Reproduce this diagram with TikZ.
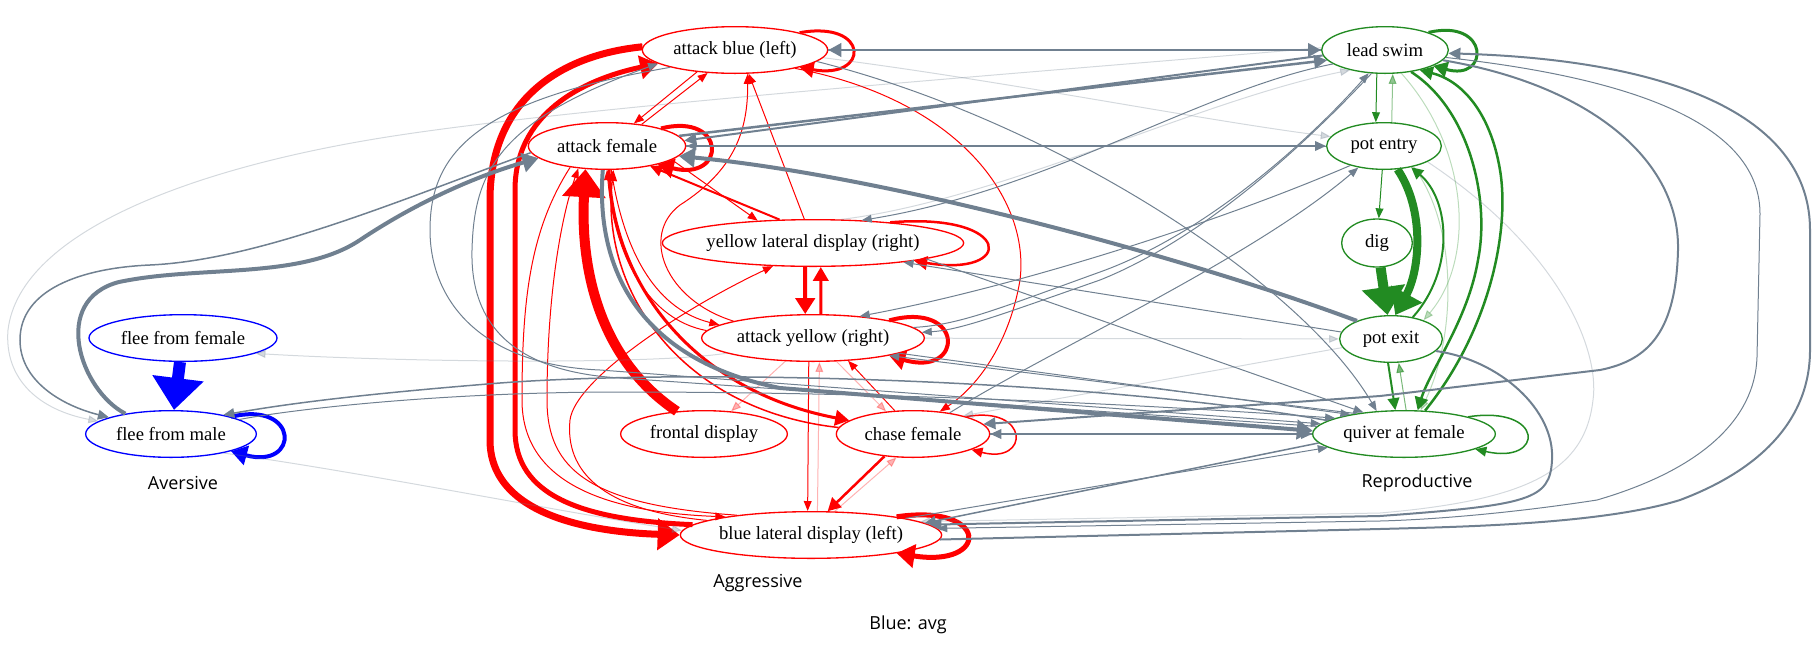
\documentclass[tikz,border=0pt]{standalone}
\usepackage{fontspec}
\setmainfont{Liberation Serif}
\newfontfamily\clusterfont{Open Sans}
\usepackage{xcolor}
\usetikzlibrary{shapes,arrows.meta,positioning,calc}
\definecolor{aggred}{RGB}{255,0,0}
\definecolor{repgreen}{RGB}{34,139,34}
\definecolor{avblue}{RGB}{0,0,255}
\definecolor{slategray}{RGB}{112,128,144}

\begin{document}
\begin{tikzpicture}[x=0.75pt, y=-0.75pt, >={Triangle[length=6pt 2,width=3pt 3.8]},
    state/.style={ellipse, draw, line width=1pt, inner sep=0pt, minimum height=35pt, font=\fontsize{14}{16}\selectfont},
    aggstate/.style={state, draw=aggred},
    repstate/.style={state, draw=repgreen},
    avstate/.style={state, draw=avblue},
    clusterlabel/.style={font=\clusterfont\fontsize{13.5}{16}\selectfont},
    pw/.style={line width=#1*0.75pt},
    agg/.style={color=aggred, ->},
    rep/.style={color=repgreen, ->},
    avs/.style={color=avblue, ->},
    cross/.style={color=slategray, ->},
    faint/.style={opacity=0.3}]
    \useasboundingbox (0,0) rectangle (1816,647);

    % Aggressive states
    \node[aggstate, minimum width=139pt] (ab) at (735,50) {attack blue (left)};
    \node[aggstate, minimum width=118pt] (af) at (607,146) {attack female};
    \node[aggstate, minimum width=224pt] (yl) at (813,243) {yellow lateral display (right)};
    \node[aggstate, minimum width=167pt] (ay) at (813,338) {attack yellow (right)};
    \node[aggstate, minimum width=125pt] (fd) at (704,434) {frontal display};
    \node[aggstate, minimum width=115pt] (cf) at (913,434) {chase female};
    \node[aggstate, minimum width=196pt] (bl) at (811,535) {blue lateral display (left)};

    % Reproductive states
    \node[repstate, minimum width=95pt] (ls) at (1385,50) {lead swim};
    \node[repstate, minimum width=86pt] (pe) at (1384,146) {pot entry};
    \node[repstate, minimum width=53pt, minimum height=36pt] (dg) at (1377,243) {dig};
    \node[repstate, minimum width=77pt] (px) at (1391,339) {pot exit};
    \node[repstate, minimum width=137pt] (qf) at (1404,434) {quiver at female};

    % Aversive states
    \node[avstate, minimum width=141pt] (ff) at (183,338) {flee from female};
    \node[avstate, minimum width=128pt] (fm) at (171,434) {flee from male};

    % Cluster labels
    \node[clusterlabel] (lblav) at (183,483) {Aversive};
    \node[clusterlabel] (lblag) at (758,583) {Aggressive};
    \node[clusterlabel] (lblrp) at (1417,483) {Reproductive};
    \node[clusterlabel] (lblkey) at (908,625) {Blue: avg};

    % Aversive transitions
    \draw[avs,pw=12] (ff) -- (fm);
    \draw[avs,pw=4] (fm.16) .. controls (300,400) and (300,470) .. (fm.-16);

    % Aggressive self loops
    \draw[agg,pw=3] (ab.15) .. controls (870,20) and (870,80) .. (ab.-15);
    \draw[agg,pw=4] (af.18) .. controls (727,112) and (727,182) .. (af.-20);
    \draw[agg,pw=2.5] (yl.15) .. controls (1015,212) and (1015,278) .. (yl.-10);
    \draw[agg,pw=4] (ay.13) .. controls (965,300) and (965,378) .. (ay.-13);
    \draw[agg,pw=1.5] (cf.18) .. controls (1030,405) and (1030,465) .. (cf.-15);
    \draw[agg,pw=5] (bl.12) .. controls (990,503) and (990,568) .. (bl.-12);

    % Aggressive transitions
    \draw[agg,pw=7] (ab.178) .. controls (560,55) and (490,100) .. (490,200) -- (490,440) .. controls (490,515) and (590,532) .. (bl.180);
    \draw[agg,pw=5] (bl.175) .. controls (580,520) and (515,495) .. (515,430) -- (515,190) .. controls (515,115) and (580,80) .. (ab.190);
    \draw[agg,pw=10] (fd.140) .. controls (600,360) and (580,270) .. (af.-133);
    \draw[agg,pw=3] (af.-85) .. controls (612,280) and (690,390) .. (cf.168);
    \draw[agg,pw=1.5] (cf.175) .. controls (680,410) and (600,290) .. (af.-75);
    \draw[agg,pw=2] (yl.145) -- (af.-25);
    \draw[agg,pw=1] (af.-12) -- (yl.158);
    \draw[agg,pw=1] (yl.110) -- (ab.-60);
    \draw[agg,pw=1] (ay.168) .. controls (665,300) and (640,235) .. (680,205) .. controls (735,170) and (748,130) .. (ab.-62);
    \draw[agg,pw=1] (ab.-150) -- (af.40);
    \draw[agg,pw=1] (af.32) -- (ab.-140);
    \draw[agg,pw=1] (ab.-17) .. controls (960,100) and (1030,200) .. (1020,280) .. controls (1010,340) and (980,385) .. (cf.40);
    \draw[agg,pw=4] (yl.-108) -- (ay.108);
    \draw[agg,pw=3] (ay.72) -- (yl.-72);
    \draw[agg,pw=1] (af.-80) .. controls (625,260) and (660,310) .. (ay.172);
    \draw[agg,pw=1] (ay.176) .. controls (650,320) and (615,260) .. (af.-90);
    \draw[agg,pw=1] (bl.172) .. controls (600,510) and (565,470) .. (570,420) .. controls (575,380) and (680,310) .. (yl.-150);
    \draw[agg,pw=1] (ay.-100) -- (bl.98);
    \draw[agg,pw=1,faint] (bl.75) -- (ay.-75);
    \draw[agg,pw=2.5] (cf.-142) -- (bl.55);
    \draw[agg,pw=1,faint] (bl.45) -- (cf.-125);
    \draw[agg,pw=1] (cf.128) -- (ay.-33);
    \draw[agg,pw=1,faint] (ay.-45) -- (cf.140);
    \draw[agg,pw=1,faint] (ay.-140) -- (fd.40);
    \draw[agg,pw=1] (af.-150) .. controls (530,230) and (522,300) .. (522,400) .. controls (522,480) and (600,512) .. (bl.168);
    \draw[agg,pw=1] (bl.165) .. controls (590,505) and (547,470) .. (547,400) .. controls (547,300) and (560,220) .. (af.-142);

    % Reproductive transitions
    \draw[rep,pw=3] (ls.22) .. controls (1490,18) and (1490,82) .. (ls.-18);
    \draw[rep,pw=1] (ls.-109) -- (pe.109);
    \draw[rep,pw=1,opacity=0.5] (pe.72) -- (ls.-72);
    \draw[rep,pw=1] (pe) -- (dg);
    \draw[rep,pw=10] (dg) -- (px);
    \draw[rep,pw=8] (pe.-60) .. controls (1425,210) and (1420,270) .. (px.80);
    \draw[rep,pw=2] (px.45) .. controls (1455,270) and (1450,200) .. (pe.-38);
    \draw[rep,pw=2] (px.-97) -- (qf.110);
    \draw[rep,pw=1,opacity=0.6] (qf.85) -- (px.-72);
    \draw[rep,pw=2.5] (ls.-40) .. controls (1470,110) and (1490,200) .. (1478,260) .. controls (1468,320) and (1430,370) .. (qf.60);
    \draw[rep,pw=2.5] (qf.48) .. controls (1490,330) and (1510,230) .. (1500,170) .. controls (1490,110) and (1460,80) .. (ls.-30);
    \draw[rep,pw=1.5] (qf.15) .. controls (1545,405) and (1545,465) .. (qf.-12);
    \draw[rep,pw=1,faint] (pe.-35) .. controls (1460,230) and (1455,340) .. (qf.55);
    \draw[rep,pw=1,faint] (ls.-55) .. controls (1470,150) and (1475,260) .. (px.30);

    % Transitions between clusters
    \draw[cross,pw=2.5] (ab) -- (ls);
    \draw[cross,pw=2.5] (ls) -- (ab);
    \draw[cross,pw=2.5] (af.8) -- (ls.190);
    \draw[cross,pw=2] (ls.185) -- (af.4);
    \draw[cross,pw=1.5] (af) -- (pe);
    \draw[cross,pw=1] (pe) -- (af);
    \draw[cross,pw=4] (px.152) .. controls (1180,255) and (880,175) .. (af.-8);
    \draw[cross,pw=4] (fm.156) .. controls (80,390) and (50,300) .. (119,282) .. controls (200,265) and (300,280) .. (360,240) .. controls (420,200) and (480,175) .. (af.-170);
    \draw[cross,pw=1.5] (af.-175) .. controls (400,200) and (260,260) .. (150,265) .. controls (80,268) and (20,290) .. (20,340) .. controls (20,380) and (60,405) .. (fm.165);
    \draw[cross,pw=1,faint] (ls.178) .. controls (1000,75) and (600,105) .. (400,135) .. controls (200,165) and (20,230) .. (8,330) .. controls (4,380) and (40,410) .. (fm.170);
    \draw[cross,pw=1] (ab.-165) .. controls (480,100) and (430,150) .. (430,230) .. controls (430,300) and (480,365) .. (600,370) -- (qf.173);
    \draw[cross,pw=1] (qf.175) -- (620,378) .. controls (520,372) and (470,330) .. (472,250) .. controls (474,170) and (500,120) .. (ab.-170);
    \draw[cross,pw=4] (af.-100) .. controls (595,270) and (640,360) .. (780,388) -- (qf.178);
    \draw[cross,pw=1.5] (cf) -- (qf);
    \draw[cross,pw=1.5] (qf) -- (cf);
    \draw[cross,pw=2] (ls.-10) .. controls (1590,85) and (1680,160) .. (1678,250) .. controls (1676,330) and (1650,360) .. (1600,370) -- (1380,396) -- (cf.8);
    \draw[cross,pw=2] (bl.-2) -- (1380,529) .. controls (1450,527) and (1600,525) .. (1680,500) .. controls (1760,470) and (1810,420) .. (1810,350) -- (1810,230) .. controls (1810,120) and (1680,60) .. (ls.-3);
    \draw[cross,pw=1] (ls.-7) .. controls (1650,80) and (1760,130) .. (1760,214) -- (1757,357) .. controls (1755,420) and (1700,470) .. (1597,500) .. controls (1500,515) and (1420,520) .. (1380,521) -- (bl.3);
    \draw[cross,pw=2] (px.-15) .. controls (1500,360) and (1555,410) .. (1552,460) .. controls (1550,500) and (1530,505) .. (1380,516) -- (bl.5);
    \draw[cross,pw=1,faint] (pe.-20) .. controls (1560,250) and (1600,350) .. (1593,400) .. controls (1585,470) and (1530,500) .. (1380,513) -- (bl.7);
    \draw[cross,pw=1] (bl.10) -- (qf.-170);
    \draw[cross,pw=1.5] (qf.-174) -- (bl.6);
    \draw[cross,pw=1.5] (qf.170) .. controls (1100,380) and (700,368) .. (500,383) .. controls (350,395) and (280,405) .. (fm.20);
    \draw[cross,pw=1] (fm.12) .. controls (300,408) and (450,392) .. (620,392) .. controls (900,392) and (1150,405) .. (qf.167);
    \draw[cross,pw=1,faint] (fm.-20) .. controls (350,470) and (550,510) .. (bl.178);
    \draw[cross,pw=1,faint] (ay.-170) .. controls (650,365) and (400,362) .. (ff.-12);
    \draw[cross,pw=1] (ab.-8) .. controls (1050,120) and (1300,280) .. (qf.140);
    \draw[cross,pw=1] (ls.-120) .. controls (1300,150) and (1200,240) .. (1100,280) .. controls (1000,315) and (960,330) .. (ay.3);
    \draw[cross,pw=1] (ay.6) .. controls (960,325) and (1000,308) .. (1100,272) .. controls (1200,236) and (1300,150) .. (ls.-125);
    \draw[cross,pw=1,faint] (ay) -- (px);
    \draw[cross,pw=1] (ay.-10) -- (qf.160);
    \draw[cross,pw=1] (qf.157) -- (ay.-13);
    \draw[cross,pw=1] (yl.-8) -- (qf.152);
    \draw[cross,pw=1] (px.172) -- (yl.-12);
    \draw[cross,pw=1] (ls.-165) .. controls (1200,90) and (1050,190) .. (yl.25);
    \draw[cross,pw=1,faint] (yl.40) .. controls (1000,200) and (1200,100) .. (ls.-150);
    \draw[cross,pw=1] (cf.30) .. controls (1050,350) and (1250,260) .. (pe.-140);
    \draw[cross,pw=1,faint] (ab.-5) .. controls (1000,80) and (1200,120) .. (pe.170);
    \draw[cross,pw=1,faint] (px.-170) -- (cf.20);
    \draw[cross,pw=1] (pe.-150) .. controls (1200,230) and (1000,290) .. (ay.25);
\end{tikzpicture}
\end{document}
